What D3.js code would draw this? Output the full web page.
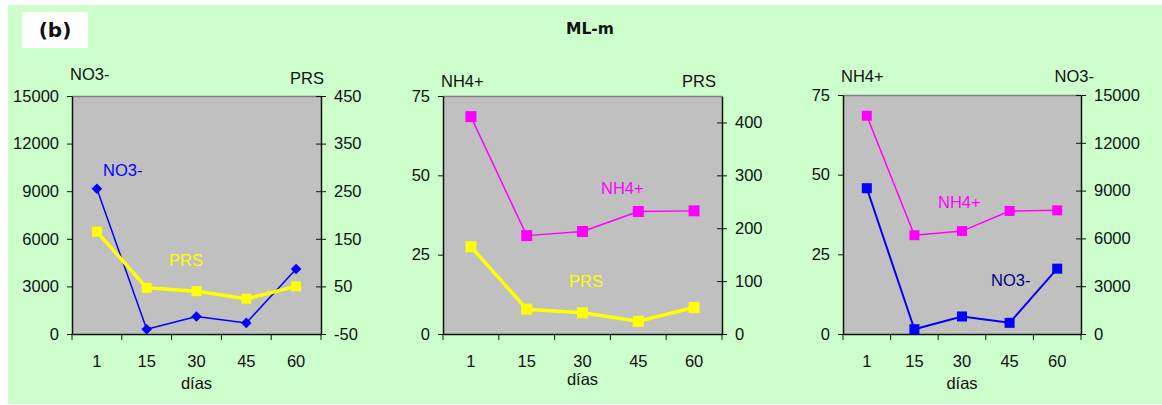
<!DOCTYPE html>
<html>
<head>
<meta charset="utf-8">
<script src="https://cdn.jsdelivr.net/npm/d3@7"></script>
<style>
html,body{margin:0;padding:0;background:#fff;}
svg{display:block;}
text{font-family:"Liberation Sans",Arial,sans-serif;}
</style>
</head>
<body>
<svg id="chart" width="1162" height="405"></svg>
<script>
// ---- data ----
const days = ["1", "15", "30", "45", "60"];
const no3 = [9150, 300, 1100, 700, 4100];
const prs = [165, 47, 40, 24, 50];
const nh4 = [68.5, 31, 32.3, 38.6, 38.8];

const no3Ticks = [0, 3000, 6000, 9000, 12000, 15000];
const prsTicks1 = [-50, 50, 150, 250, 350, 450];
const nh4Ticks = [0, 25, 50, 75];
const prsTicks2 = [0, 100, 200, 300, 400];

const svg = d3.select("#chart");
const FG = "#111";
const FS = "16.5px";

svg.append("rect").attr("x", 8).attr("y", 5).attr("width", 1154).attr("height", 399).attr("fill", "#CCFFCC");
svg.append("rect").attr("x", 22).attr("y", 12).attr("width", 66).attr("height", 36).attr("fill", "#fff");
svg.append("text").attr("x", 55).attr("y", 37).attr("text-anchor", "middle")
  .style("font-family", "'DejaVu Sans',Verdana,sans-serif").style("font-weight", "bold").style("font-size", "20px")
  .attr("fill", FG).text("(b)");
svg.append("text").attr("x", 590).attr("y", 34).attr("text-anchor", "middle")
  .style("font-family", "'DejaVu Sans',Verdana,sans-serif").style("font-weight", "bold").style("font-size", "15.5px")
  .attr("fill", FG).text("ML-m");

function panel(cfg) {
  const g = svg.append("g");
  const x = d3.scaleBand().domain(days).range([cfg.x0, cfg.x1]);
  const yl = d3.scaleLinear().domain(cfg.lDomain).range([334, cfg.y0]);
  const yr = d3.scaleLinear().domain(cfg.rDomain).range([334, cfg.y0]);
  const fmt = d => String(d);

  g.append("rect").attr("x", cfg.x0).attr("y", cfg.y0).attr("width", cfg.x1 - cfg.x0).attr("height", 334 - cfg.y0)
    .attr("fill", "#C0C0C0");
  g.append("line").attr("x1", cfg.x0).attr("x2", cfg.x1).attr("y1", cfg.y0 + 0.5).attr("y2", cfg.y0 + 0.5)
    .attr("stroke", "#808080").attr("stroke-width", 1.5);

  const la = g.append("g").attr("transform", `translate(${cfg.x0},0)`)
    .call(d3.axisLeft(yl).tickValues(cfg.lTicks).tickFormat(fmt).tickSize(5).tickPadding(8).tickSizeOuter(0));
  const ra = g.append("g").attr("transform", `translate(${cfg.x1},0)`)
    .call(d3.axisRight(yr).tickValues(cfg.rTicks).tickFormat(fmt).tickSize(5).tickPadding(8).tickSizeOuter(0));
  ra.selectAll(".tick line").attr("x1", -5);
  const ba = g.append("g").attr("transform", `translate(0,334)`)
    .call(d3.axisBottom(x).tickSize(0).tickPadding(21).tickSizeOuter(0));
  const bounds = days.map(d => x(d)).concat([cfg.x1]);
  g.selectAll(".bt").data(bounds).enter().append("line")
    .attr("x1", d => d).attr("x2", d => d).attr("y1", 334).attr("y2", 340).attr("stroke", FG);
  [la, ra, ba].forEach(a => {
    a.selectAll("path").attr("stroke", FG).attr("stroke-width", 1.5);
    a.selectAll(".tick line").attr("stroke", FG);
    a.selectAll("text").attr("fill", FG).style("font-size", FS).style("font-family", "'Liberation Sans',Arial,sans-serif");
  });

  g.append("text").attr("x", (cfg.x0 + cfg.x1) / 2).attr("y", cfg.diasY).attr("text-anchor", "middle")
    .attr("fill", FG).style("font-size", FS).text("días");
  g.append("text").attr("x", cfg.x0 - 2).attr("y", cfg.ltY).attr("fill", FG).style("font-size", FS).text(cfg.lTitle);
  g.append("text").attr("x", cfg.rtX).attr("y", cfg.rtY).attr("text-anchor", "end").attr("fill", FG)
    .style("font-size", FS).text(cfg.rTitle);

  cfg.series.forEach(s => {
    const y = s.side === "l" ? yl : yr;
    const line = d3.line().x((d, i) => x(days[i]) + x.bandwidth() / 2).y(d => y(d));
    g.append("path").datum(s.values).attr("d", line).attr("fill", "none")
      .attr("stroke", s.color).attr("stroke-width", s.width).attr("stroke-linejoin", "round");
    const m = g.selectAll(null).data(s.values).enter();
    if (s.marker === "diamond") {
      m.append("path").attr("d", d3.symbol(d3.symbolSquare, s.msize * s.msize))
        .attr("transform", (d, i) => `translate(${x(days[i]) + x.bandwidth() / 2},${y(d)}) rotate(45)`)
        .attr("fill", s.color);
    } else {
      m.append("rect").attr("x", (d, i) => x(days[i]) + x.bandwidth() / 2 - s.msize / 2)
        .attr("y", d => y(d) - s.msize / 2).attr("width", s.msize).attr("height", s.msize).attr("fill", s.color);
    }
    g.append("text").attr("x", s.lx).attr("y", s.ly).attr("fill", s.lcolor || s.color)
      .style("font-size", FS).text(s.name);
  });
}

panel({
  x0: 72, x1: 321, y0: 96, lDomain: [0, 15000], rDomain: [-50, 450], lTicks: no3Ticks, rTicks: prsTicks1,
  lTitle: "NO3-", rTitle: "PRS", ltY: 80, rtX: 324, rtY: 84, diasY: 389,
  series: [
    {name: "NO3-", values: no3, side: "l", color: "#0000FF", width: 1.5, marker: "diamond", msize: 7.5, lx: 103, ly: 176},
    {name: "PRS", values: prs, side: "r", color: "#FFFF00", width: 3.5, marker: "square", msize: 10, lx: 169, ly: 266}
  ]
});
panel({
  x0: 443, x1: 722, y0: 96, lDomain: [0, 75], rDomain: [0, 450], lTicks: nh4Ticks, rTicks: prsTicks2,
  lTitle: "NH4+", rTitle: "PRS", ltY: 87, rtX: 716, rtY: 87, diasY: 385,
  series: [
    {name: "NH4+", values: nh4, side: "l", color: "#FF00FF", width: 1.5, marker: "square", msize: 11, lx: 601, ly: 194},
    {name: "PRS", values: prs, side: "r", color: "#FFFF00", width: 3.5, marker: "square", msize: 11, lx: 569, ly: 287}
  ]
});
panel({
  x0: 843, x1: 1081, y0: 95, lDomain: [0, 75], rDomain: [0, 15000], lTicks: nh4Ticks, rTicks: no3Ticks,
  lTitle: "NH4+", rTitle: "NO3-", ltY: 82, rtX: 1094, rtY: 82, diasY: 389,
  series: [
    {name: "NH4+", values: nh4, side: "l", color: "#FF00FF", width: 1.5, marker: "square", msize: 10, lx: 938, ly: 208},
    {name: "NO3-", values: no3, side: "r", color: "#0000FF", width: 2, marker: "square", msize: 10, lx: 991, ly: 286, lcolor: "#000080"}
  ]
});
</script>
</body>
</html>
